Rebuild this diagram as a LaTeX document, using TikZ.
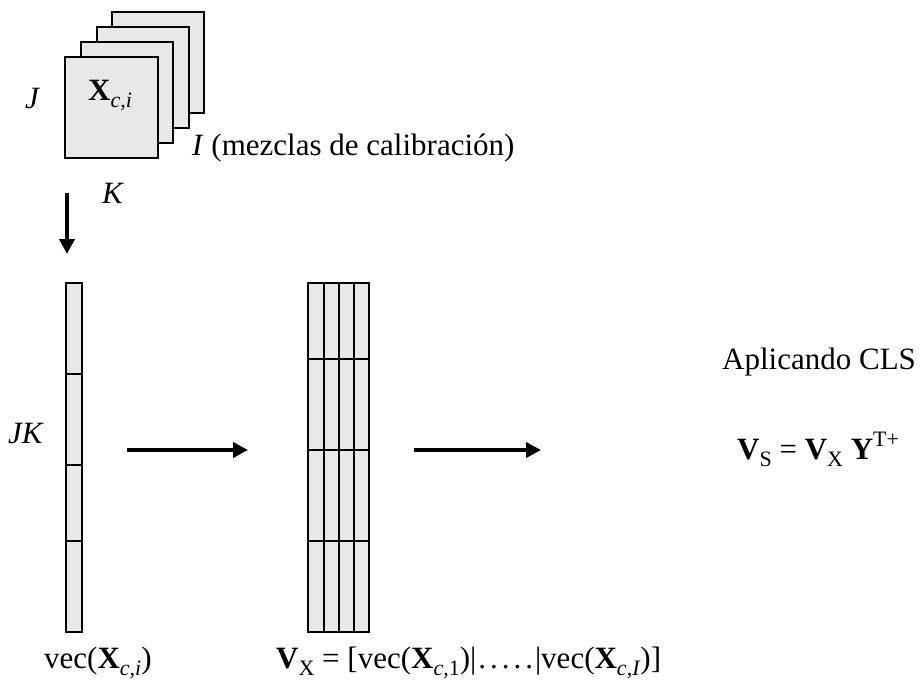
\documentclass[tikz,border=0pt]{standalone}
\usepackage{fontspec}
\setmainfont{Liberation Serif}
\usetikzlibrary{arrows.meta}
\definecolor{cellgray}{HTML}{E8E8E8}
\newcommand{\lsub}[1]{\raisebox{-0.24em}{\fontsize{22}{22}\selectfont #1}}
\newcommand{\lsup}[1]{\raisebox{0.40em}{\fontsize{22}{22}\selectfont #1}}
\newcommand{\wdots}{\kern2pt.\kern4pt.\kern4pt.\kern4pt.\kern4pt.\kern2pt}
\begin{document}
\begin{tikzpicture}[x=1pt,y=-1pt,
  sheet/.style={draw=black,fill=cellgray,line width=1.6pt},
  gridline/.style={draw=black,line width=1.6pt},
  txt/.style={inner sep=0pt,font=\fontsize{31}{37}\selectfont,anchor=base west},
  bigarrow/.style={line width=4pt,-{Triangle[length=15pt,width=15pt]}}]
\useasboundingbox (0,0) rectangle (922,686);
% stacked sheets
\draw[sheet] (112,12) rectangle (204,113);
\draw[sheet] (97,27) rectangle (189,128);
\draw[sheet] (81,42) rectangle (173,143);
\draw[sheet] (65,57) rectangle (158,158);
\node[txt] (xci) at (88,100) {\textbf{X}\lsub{\textit{c,i}}};
\node[txt] (jlab) at (25,108) {\textit{J}};
\node[txt] (ilab) at (192,155) {\textit{I} (mezclas de calibración)};
\node[txt] (klab) at (102,203) {\textit{K}};
% down arrow
\coordinate (d1) at (67,193);
\coordinate (d2) at (67,254);
\draw[bigarrow] (d1) -- (d2);
% left column
\fill[cellgray] (66,283) rectangle (82,632);
\draw[gridline] (66,374) -- (82,374);
\draw[gridline] (66,465) -- (82,465);
\draw[gridline] (66,541) -- (82,541);
\draw[gridline] (66,283) rectangle (82,632);
\node[txt,anchor=base east] (jk) at (44,443) {\textit{JK}};
\node[txt] (vec) at (44,668) {vec(\textbf{X}\lsub{\textit{c,i}})};
% right matrix
\fill[cellgray] (308,283) rectangle (369,632);
\foreach \xx in {324,339,354} \draw[gridline] (\xx,283) -- (\xx,632);
\foreach \yy in {359,450,541} \draw[gridline] (308,\yy) -- (369,\yy);
\draw[gridline] (308,283) rectangle (369,632);
\node[txt] (vx) at (276,668) {\textbf{V}\lsub{X} = [vec(\textbf{X}\lsub{\textit{c},1})|\wdots|vec(\textbf{X}\lsub{\textit{c,I}})]};
% horizontal arrows
\coordinate (a1s) at (127,450);
\coordinate (a1e) at (248,450);
\draw[bigarrow] (a1s) -- (a1e);
\coordinate (a2s) at (414,450);
\coordinate (a2e) at (541,450);
\draw[bigarrow] (a2s) -- (a2e);
% right text
\node[txt] (cls) at (722,369) {Aplicando CLS};
\node[txt] (vs) at (737,459) {\textbf{V}\lsub{S} = \textbf{V}\lsub{X} \textbf{Y}\lsup{T+}};
\end{tikzpicture}
\end{document}
